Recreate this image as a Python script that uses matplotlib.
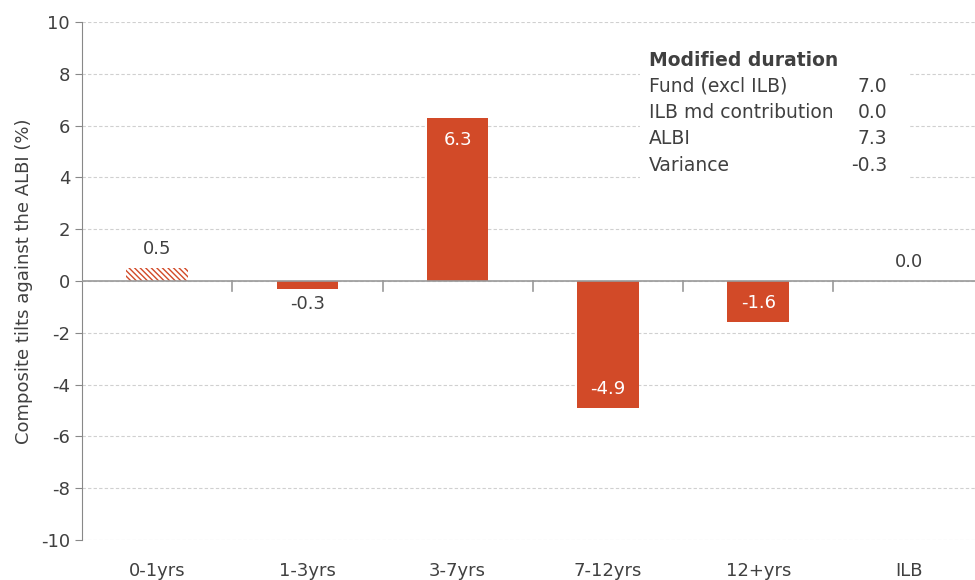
import numpy as np
import matplotlib.pyplot as plt

categories = ['0-1yrs', '1-3yrs', '3-7yrs', '7-12yrs', '12+yrs', 'ILB']
tilts = [0.5, -0.3, 6.3, -4.9, -1.6, 0.0]
table_rows = ['Fund (excl ILB)', 'ILB md contribution', 'ALBI', 'Variance']
table_vals = ['7.0', '0.0', '7.3', '-0.3']

red = '#D24A28'
txt = '#404040'
plt.rcParams['font.family'] = ['DejaVu Sans']
plt.rcParams['axes.unicode_minus'] = False
plt.rcParams['hatch.linewidth'] = 1.0

fig = plt.figure(figsize=(9.75, 5.8), dpi=100)
ax = fig.add_axes([0.084, 0.069, 0.925, 0.893])

x = np.arange(len(categories))
bars = ax.bar(x, tilts, width=0.41, color=red, edgecolor='none', zorder=3)
bars[0].set_facecolor('white')
bars[0].set_edgecolor(red)
bars[0].set_linewidth(0)
bars[0].set_hatch('\\\\\\\\\\\\')

ax.set_xlim(-0.5, len(categories) - 0.5)
ax.set_ylim(-10, 10)
ax.set_yticks(range(-10, 11, 2))
ax.yaxis.grid(True, linestyle=(0, (3, 2)), color='#d0d0d0', linewidth=0.8)
ax.set_axisbelow(True)
for s in ['top', 'right', 'bottom']:
    ax.spines[s].set_visible(False)
ax.spines['left'].set_color('#888888')
ax.tick_params(axis='y', colors='#888888', labelcolor=txt, labelsize=13, length=5, direction='out')
ax.set_xticks(x)
ax.set_xticklabels(categories)
ax.tick_params(axis='x', length=0, labelsize=13, labelcolor=txt, pad=16)

# zero axis line with category boundary ticks
ax.axhline(0, color='#999999', linewidth=1.2, zorder=4)
for b in np.arange(0.5, len(categories) - 0.5):
    ax.plot([b, b], [0, -0.4], color='#999999', linewidth=1.2, zorder=4)

ax.set_ylabel('Composite tilts against the ALBI (%)', fontsize=13, color=txt, labelpad=6)

for i, v in enumerate(tilts):
    if abs(v) >= 1:
        y = v - 0.5 if v > 0 else v + 0.4
        va = 'top' if v > 0 else 'bottom'
        ax.text(i, y, f'{v:.1f}', ha='center', va=va, color='white', fontsize=13, zorder=5)
    elif v < 0:
        ax.text(i, v - 0.25, f'{v:.1f}', ha='center', va='top', color=txt, fontsize=13, zorder=5)
    else:
        ax.text(i, v + 0.4, f'{v:.1f}', ha='center', va='bottom', color=txt, fontsize=13, zorder=5)

# modified duration table
ax.add_patch(plt.Rectangle((3.21, 3.8), 1.79, 5.3, facecolor='white', edgecolor='none', zorder=2))
ax.text(3.27, 8.53, 'Modified duration', fontsize=13.5, fontweight='bold', color=txt, va='center', zorder=5)
for k, (r, v) in enumerate(zip(table_rows, table_vals)):
    yy = 7.53 - k * 1.02
    ax.text(3.27, yy, r, fontsize=13.5, color=txt, va='center', zorder=5)
    ax.text(4.86, yy, v, fontsize=13.5, color=txt, va='center', ha='right', zorder=5)

fig.savefig('out.png', dpi=100)
